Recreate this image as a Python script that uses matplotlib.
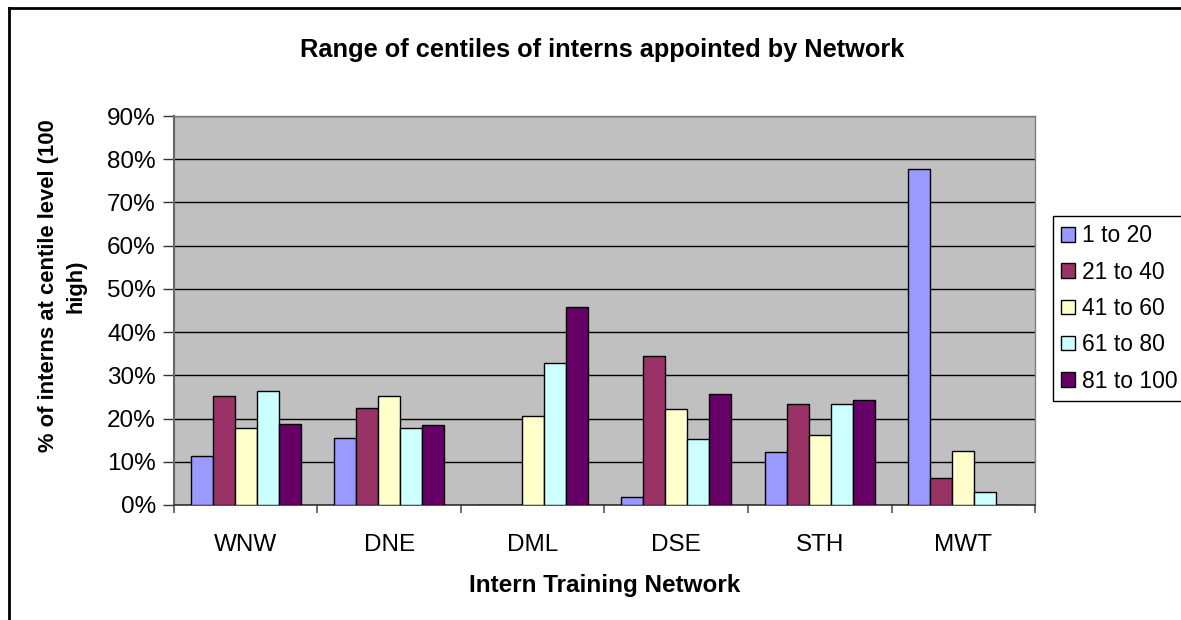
import matplotlib
matplotlib.use("Agg")
import matplotlib.pyplot as plt
from matplotlib.lines import Line2D
from matplotlib.ticker import FixedLocator, PercentFormatter
import numpy as np

plt.rcParams['font.family'] = ['Liberation Sans', 'DejaVu Sans']

networks = ["WNW", "DNE", "DML", "DSE", "STH", "MWT"]
series_labels = ["1 to 20", "21 to 40", "41 to 60", "61 to 80", "81 to 100"]
s1_20 = [11.4, 15.5, 0.0, 1.8, 12.2, 77.8]
s21_40 = [25.2, 22.5, 0.0, 34.4, 23.3, 6.3]
s41_60 = [17.7, 25.2, 20.7, 22.2, 16.2, 12.6]
s61_80 = [26.3, 17.7, 32.9, 15.2, 23.3, 2.9]
s81_100 = [18.8, 18.5, 45.9, 25.6, 24.4, 0.0]
series = [s1_20, s21_40, s41_60, s61_80, s81_100]
colors = ["#9999FF", "#993366", "#FFFFCC", "#CCFFFF", "#660066"]
yticks = [0, 10, 20, 30, 40, 50, 60, 70, 80, 90]

fig = plt.figure(figsize=(11.81, 6.20), dpi=100)
ax = fig.add_axes([0.1473, 0.1855, 0.8764 - 0.1473, 0.8129 - 0.1855])
ax.set_facecolor("#C0C0C0")

x = np.arange(len(networks))
w = 0.153
for i, (vals, c, lab) in enumerate(zip(series, colors, series_labels)):
    ax.bar(x + (i - 2) * w, vals, width=w, color=c, edgecolor="black",
           linewidth=1.0, label=lab, zorder=3)

ax.set_xlim(-0.5, len(networks) - 0.5)
ax.set_ylim(0, 90)
ax.yaxis.set_major_locator(FixedLocator(yticks))
ax.yaxis.set_major_formatter(PercentFormatter(decimals=0))
ax.grid(axis="y", color="black", linewidth=1.0, zorder=1)
ax.set_axisbelow(True)

ax.set_xticks(x)
ax.set_xticklabels(networks)
ax.set_xticks(np.arange(-0.5, len(networks)), minor=True)
ax.tick_params(axis="x", which="major", length=0, pad=21, labelsize=17.5)
ax.tick_params(axis="x", which="minor", length=6, width=1.2, color="#555555", direction="out")
ax.tick_params(axis="y", which="major", length=8, width=1.0, color="#333333", labelsize=17.5, pad=5)

for side in ["top", "right"]:
    ax.spines[side].set_color("#808080")
    ax.spines[side].set_linewidth(1.0)
ax.spines["left"].set_color("#666666")
ax.spines["left"].set_linewidth(1.5)
ax.spines["bottom"].set_color("#333333")
ax.spines["bottom"].set_linewidth(1.2)

ax.set_xlabel("Intern Training Network", fontsize=17.5, fontweight="bold", labelpad=13)
fig.text(62 / 1181, 1 - 286 / 620, "% of interns at centile level (100\nhigh)",
         rotation=90, ha="center", va="center", multialignment="center",
         fontsize=15.8, fontweight="bold", linespacing=1.4)
fig.text(602 / 1181, 0.919, "Range of centiles of interns appointed by Network",
         ha="center", va="center", fontsize=18.3, fontweight="bold")

leg = fig.legend(loc="upper left", bbox_to_anchor=(0.8916, 0.651), fontsize=16.5,
                 frameon=True, fancybox=False, edgecolor="black", framealpha=1,
                 handlelength=0.6, handleheight=0.6, handletextpad=0.3,
                 labelspacing=0.58, borderpad=0.35, borderaxespad=0)
leg.get_frame().set_linewidth(1.0)

# outer frame of the chart (partially cut off at right and bottom)
fig.add_artist(Line2D([9 / 1181, 9 / 1181], [0, 1 - 8 / 620], color="black",
                      linewidth=2, transform=fig.transFigure))
fig.add_artist(Line2D([9 / 1181, 1], [1 - 8 / 620, 1 - 8 / 620], color="black",
                      linewidth=2, transform=fig.transFigure))

fig.savefig("out.png", dpi=100)
